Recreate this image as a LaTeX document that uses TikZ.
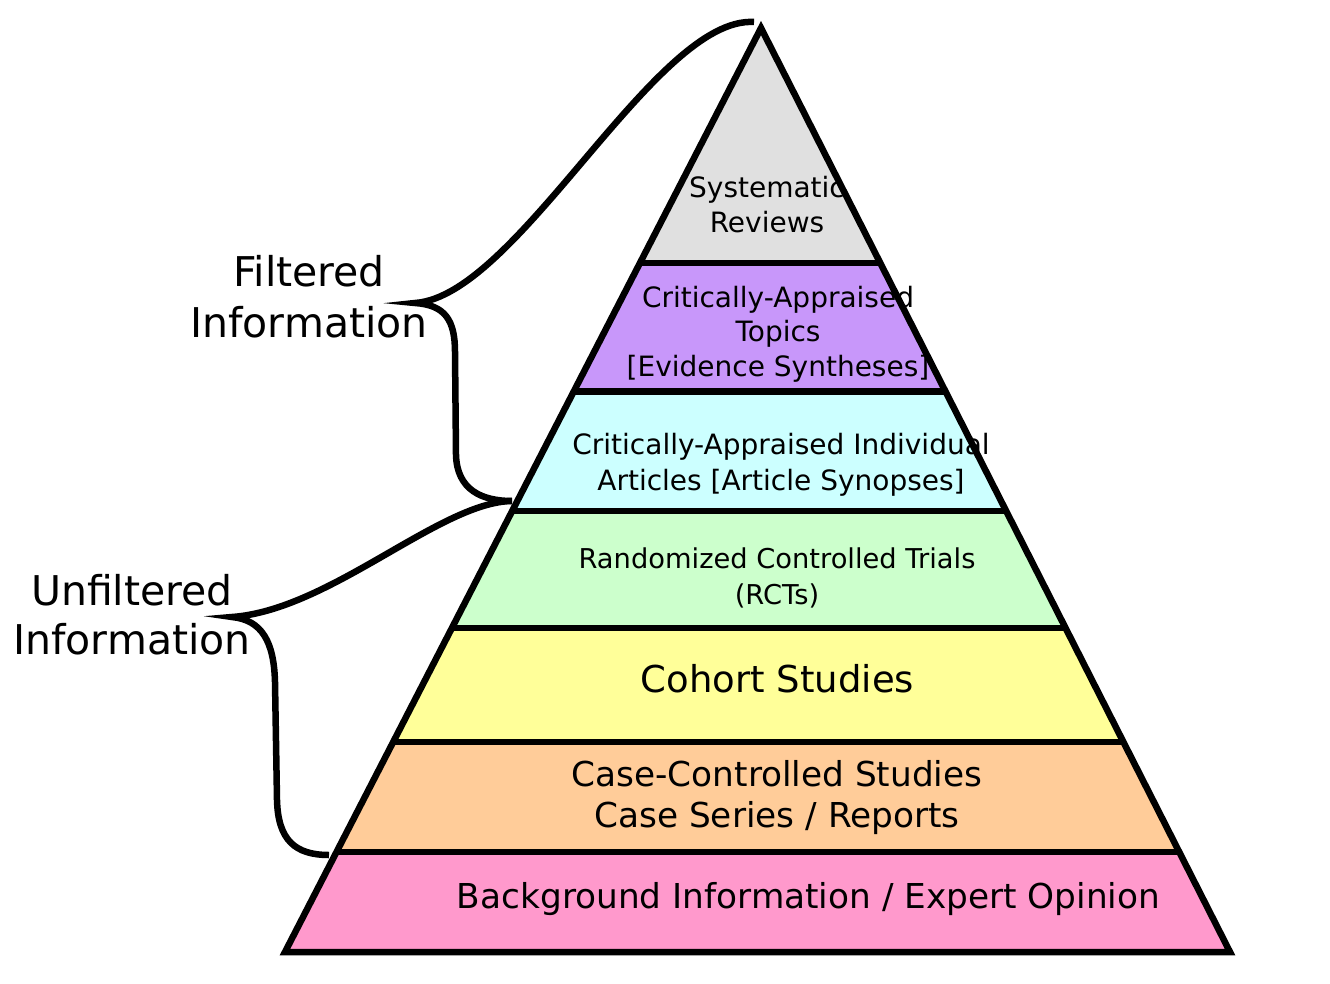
\documentclass[tikz,border=0pt]{standalone}
\usepackage{fontspec}
\setmainfont{DejaVu Sans}
\usetikzlibrary{calc}
\definecolor{cGray}{HTML}{E0E0E0}
\definecolor{cPurple}{HTML}{C897FA}
\definecolor{cCyan}{HTML}{CCFFFF}
\definecolor{cGreen}{HTML}{CCFFCC}
\definecolor{cYellow}{HTML}{FFFF99}
\definecolor{cOrange}{HTML}{FFCC99}
\definecolor{cPink}{HTML}{FF99CC}
\begin{document}
\begin{tikzpicture}[x=1pt,y=-1pt,
  edgeline/.style={line width=6.5pt, line join=miter, draw=black},
  bracket/.style={line width=6.5pt, line join=miter, draw=black},
  lbl/.style={align=center, inner sep=0pt, text=black},
  small/.style={font=\fontsize{28}{34.3}\selectfont},
  mid/.style={font=\fontsize{34.3}{41.3}\selectfont}]
\useasboundingbox (0,0) rectangle (1330,984);
\coordinate (A) at (761,28);
\coordinate (L) at (285,952);
\coordinate (R) at (1230,952);
\foreach \n/\y in {1/263,2/391.5,3/511,4/628,5/742,6/852}{
  \coordinate (L\n) at ($(A)!{(\y-28)/924}!(L)$);
  \coordinate (R\n) at ($(A)!{(\y-28)/924}!(R)$);
}
% layers
\fill[cGray] (A) -- (R1) -- (L1) -- cycle;
\fill[cPurple] (L1) -- (R1) -- (R2) -- (L2) -- cycle;
\fill[cCyan] (L2) -- (R2) -- (R3) -- (L3) -- cycle;
\fill[cGreen] (L3) -- (R3) -- (R4) -- (L4) -- cycle;
\fill[cYellow] (L4) -- (R4) -- (R5) -- (L5) -- cycle;
\fill[cOrange] (L5) -- (R5) -- (R6) -- (L6) -- cycle;
\fill[cPink] (L6) -- (R6) -- (R) -- (L) -- cycle;
\draw[edgeline] (A) -- (R) -- (L) -- cycle;
\foreach \n in {1,...,6} \draw[edgeline] (L\n) -- (R\n);
% braces
\coordinate (fTop) at (754,22);
\coordinate (fTip) at (415,303);
\coordinate (fEnd) at (512,501);
\coordinate (uTip) at (232,617);
\coordinate (uEnd) at (329,855);
\draw[bracket] (fTop) .. controls (655,16) and (518,296) .. (fTip)
  .. controls (445,305) and (455,320) .. (455,352) -- (456,455)
  .. controls (457,490) and (482,501) .. (fEnd);
\draw[bracket] (fEnd) .. controls (440,502) and (330,610) .. (uTip)
  .. controls (262,620) and (274,642) .. (275,682) -- (277,800)
  .. controls (278,840) and (295,855) .. (uEnd);
% labels
\node[lbl, small] (sys) at (767,204.5) {Systematic\\Reviews};
\node[lbl, small] (cat) at (778,334) {Critically-Appraised\\Topics\\{[Evidence Syntheses]}};
\node[lbl, font=\fontsize{28}{35.7}\selectfont] (cai) at (781,465) {Critically-Appraised Individual\\Articles [Article Synopses]};
\node[lbl, font=\fontsize{27.3}{35.7}\selectfont] (rct) at (777,578) {Randomized Controlled Trials\\(RCTs)};
\node[lbl, font=\fontsize{37}{43}\selectfont] (coh) at (777.5,678.6) {Cohort Studies};
\node[lbl, mid] (case) at (777,797.4) {Case-Controlled Studies\\Case Series / Reports};
\node[lbl, mid] (bg) at (808.5,898.7) {Background Information / Expert Opinion};
\node[lbl, font=\fontsize{41}{51}\selectfont] (filt) at (309,297) {Filtered\\Information};
\node[lbl, font=\fontsize{41}{49.3}\selectfont] (unfilt) at (132,614.5) {Unfiltered\\Information};
\end{tikzpicture}
\end{document}
